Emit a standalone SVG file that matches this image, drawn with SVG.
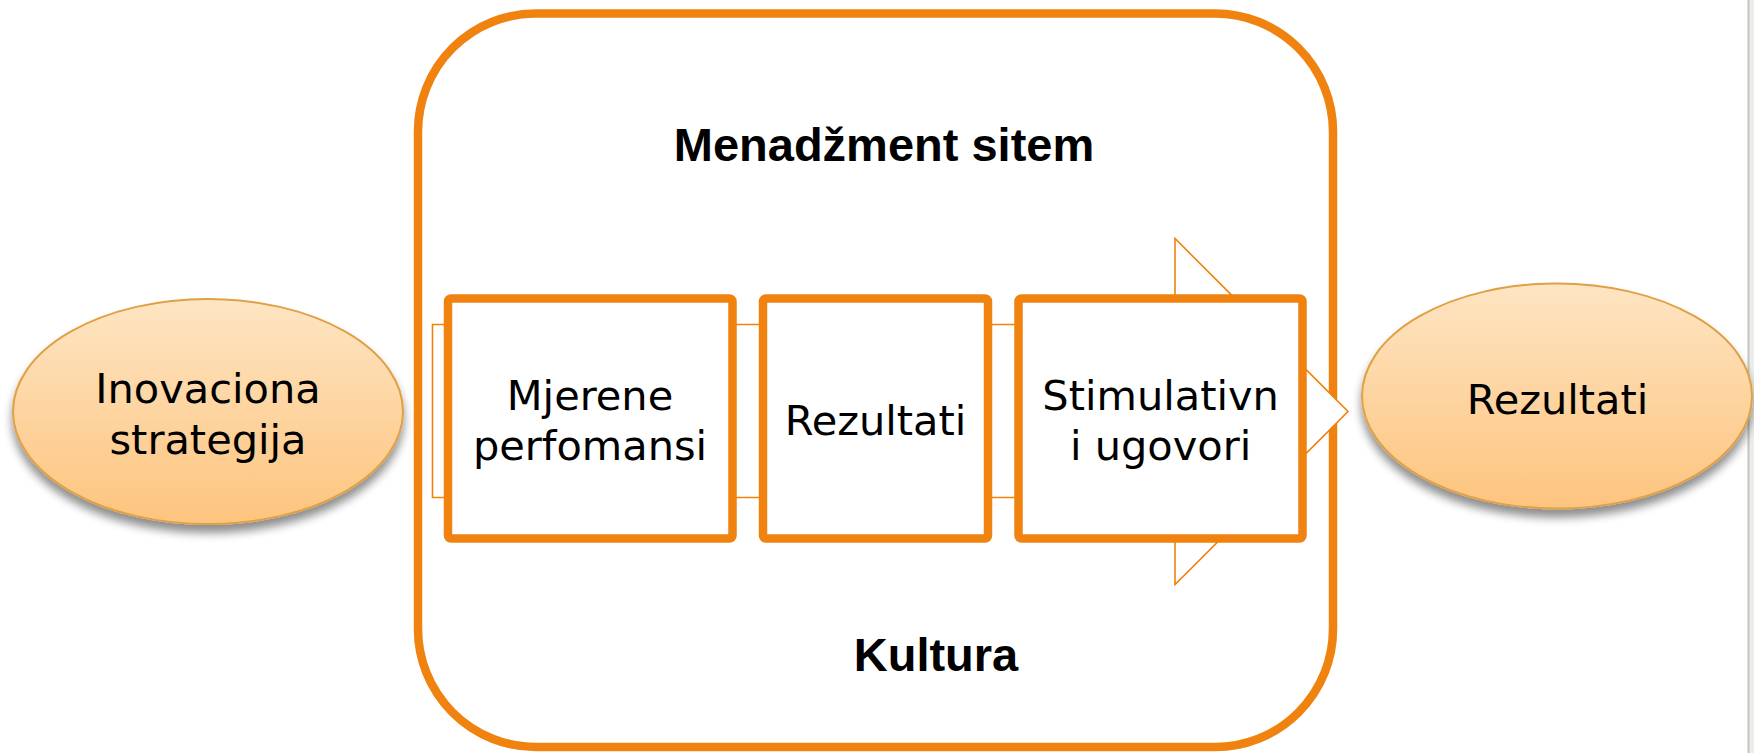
<svg xmlns="http://www.w3.org/2000/svg" width="1754" height="753" viewBox="0 0 1754 753">
<style>
.box{fill:#fff;stroke:#F0820F;stroke-width:8.5;stroke-linejoin:round}
.ell{fill:url(#eg);stroke:#E0A045;stroke-width:2;filter:url(#sh)}
.t{font-family:"DejaVu Sans",Verdana,sans-serif;font-size:41.5px;fill:#000;text-anchor:middle}
.h{font-family:"Liberation Sans",Arial,sans-serif;font-weight:bold;font-size:47px;fill:#000;text-anchor:middle}
</style>
<defs>
<linearGradient id="eg" x1="0" y1="0" x2="0" y2="1">
<stop offset="0" stop-color="#FEE5C3"/>
<stop offset="1" stop-color="#FDC47E"/>
</linearGradient>
<filter id="sh" x="-10%" y="-10%" width="120%" height="130%">
<feGaussianBlur in="SourceAlpha" stdDeviation="5"/>
<feOffset dx="0" dy="8" result="b"/>
<feComponentTransfer><feFuncA type="linear" slope="0.45"/></feComponentTransfer>
<feMerge><feMergeNode/><feMergeNode in="SourceGraphic"/></feMerge>
</filter>
</defs>
<rect width="1754" height="753" fill="#fff"/>
<rect x="1748" y="0" width="6" height="753" fill="#EDEDEA"/>
<line x1="1748.5" y1="0" x2="1748.5" y2="753" stroke="#C5C5BD" stroke-width="2"/>

<g id="frame">
<rect x="418" y="13.5" width="915" height="733.5" rx="118" ry="118" fill="#fff" stroke="#F0820F" stroke-width="8.5"/>
<text class="h" x="884" y="160.5">Menadžment sitem</text>
<text class="h" x="936" y="670.5">Kultura</text>
</g>

<g id="connectors">
<polygon points="432.5,324.5 1175,324.5 1175,238.5 1348,411.5 1175,584.5 1175,497.5 432.5,497.5" fill="#fff" stroke="#F0820F" stroke-width="1.6" stroke-linejoin="miter"/>
</g>

<g id="box1">
<rect class="box" x="448" y="298.5" width="284.5" height="240" rx="3"/>
<text class="t" x="590" y="410">Mjerene</text>
<text class="t" x="590" y="460">perfomansi</text>
</g>
<g id="box2">
<rect class="box" x="763" y="298.5" width="225" height="240" rx="3"/>
<text class="t" x="875.5" y="435">Rezultati</text>
</g>
<g id="box3">
<rect class="box" x="1018.5" y="298.5" width="284" height="240" rx="3"/>
<text class="t" x="1160.6" y="410">Stimulativn</text>
<text class="t" x="1160.6" y="460">i ugovori</text>
</g>

<g id="strategy">
<ellipse class="ell" cx="208" cy="411.5" rx="195" ry="112.5"/>
<text class="t" x="208" y="403">Inovaciona</text>
<text class="t" x="208" y="454">strategija</text>
</g>
<g id="results">
<ellipse class="ell" cx="1557" cy="396" rx="195" ry="112.5"/>
<text class="t" x="1557.5" y="414">Rezultati</text>
</g>
</svg>
